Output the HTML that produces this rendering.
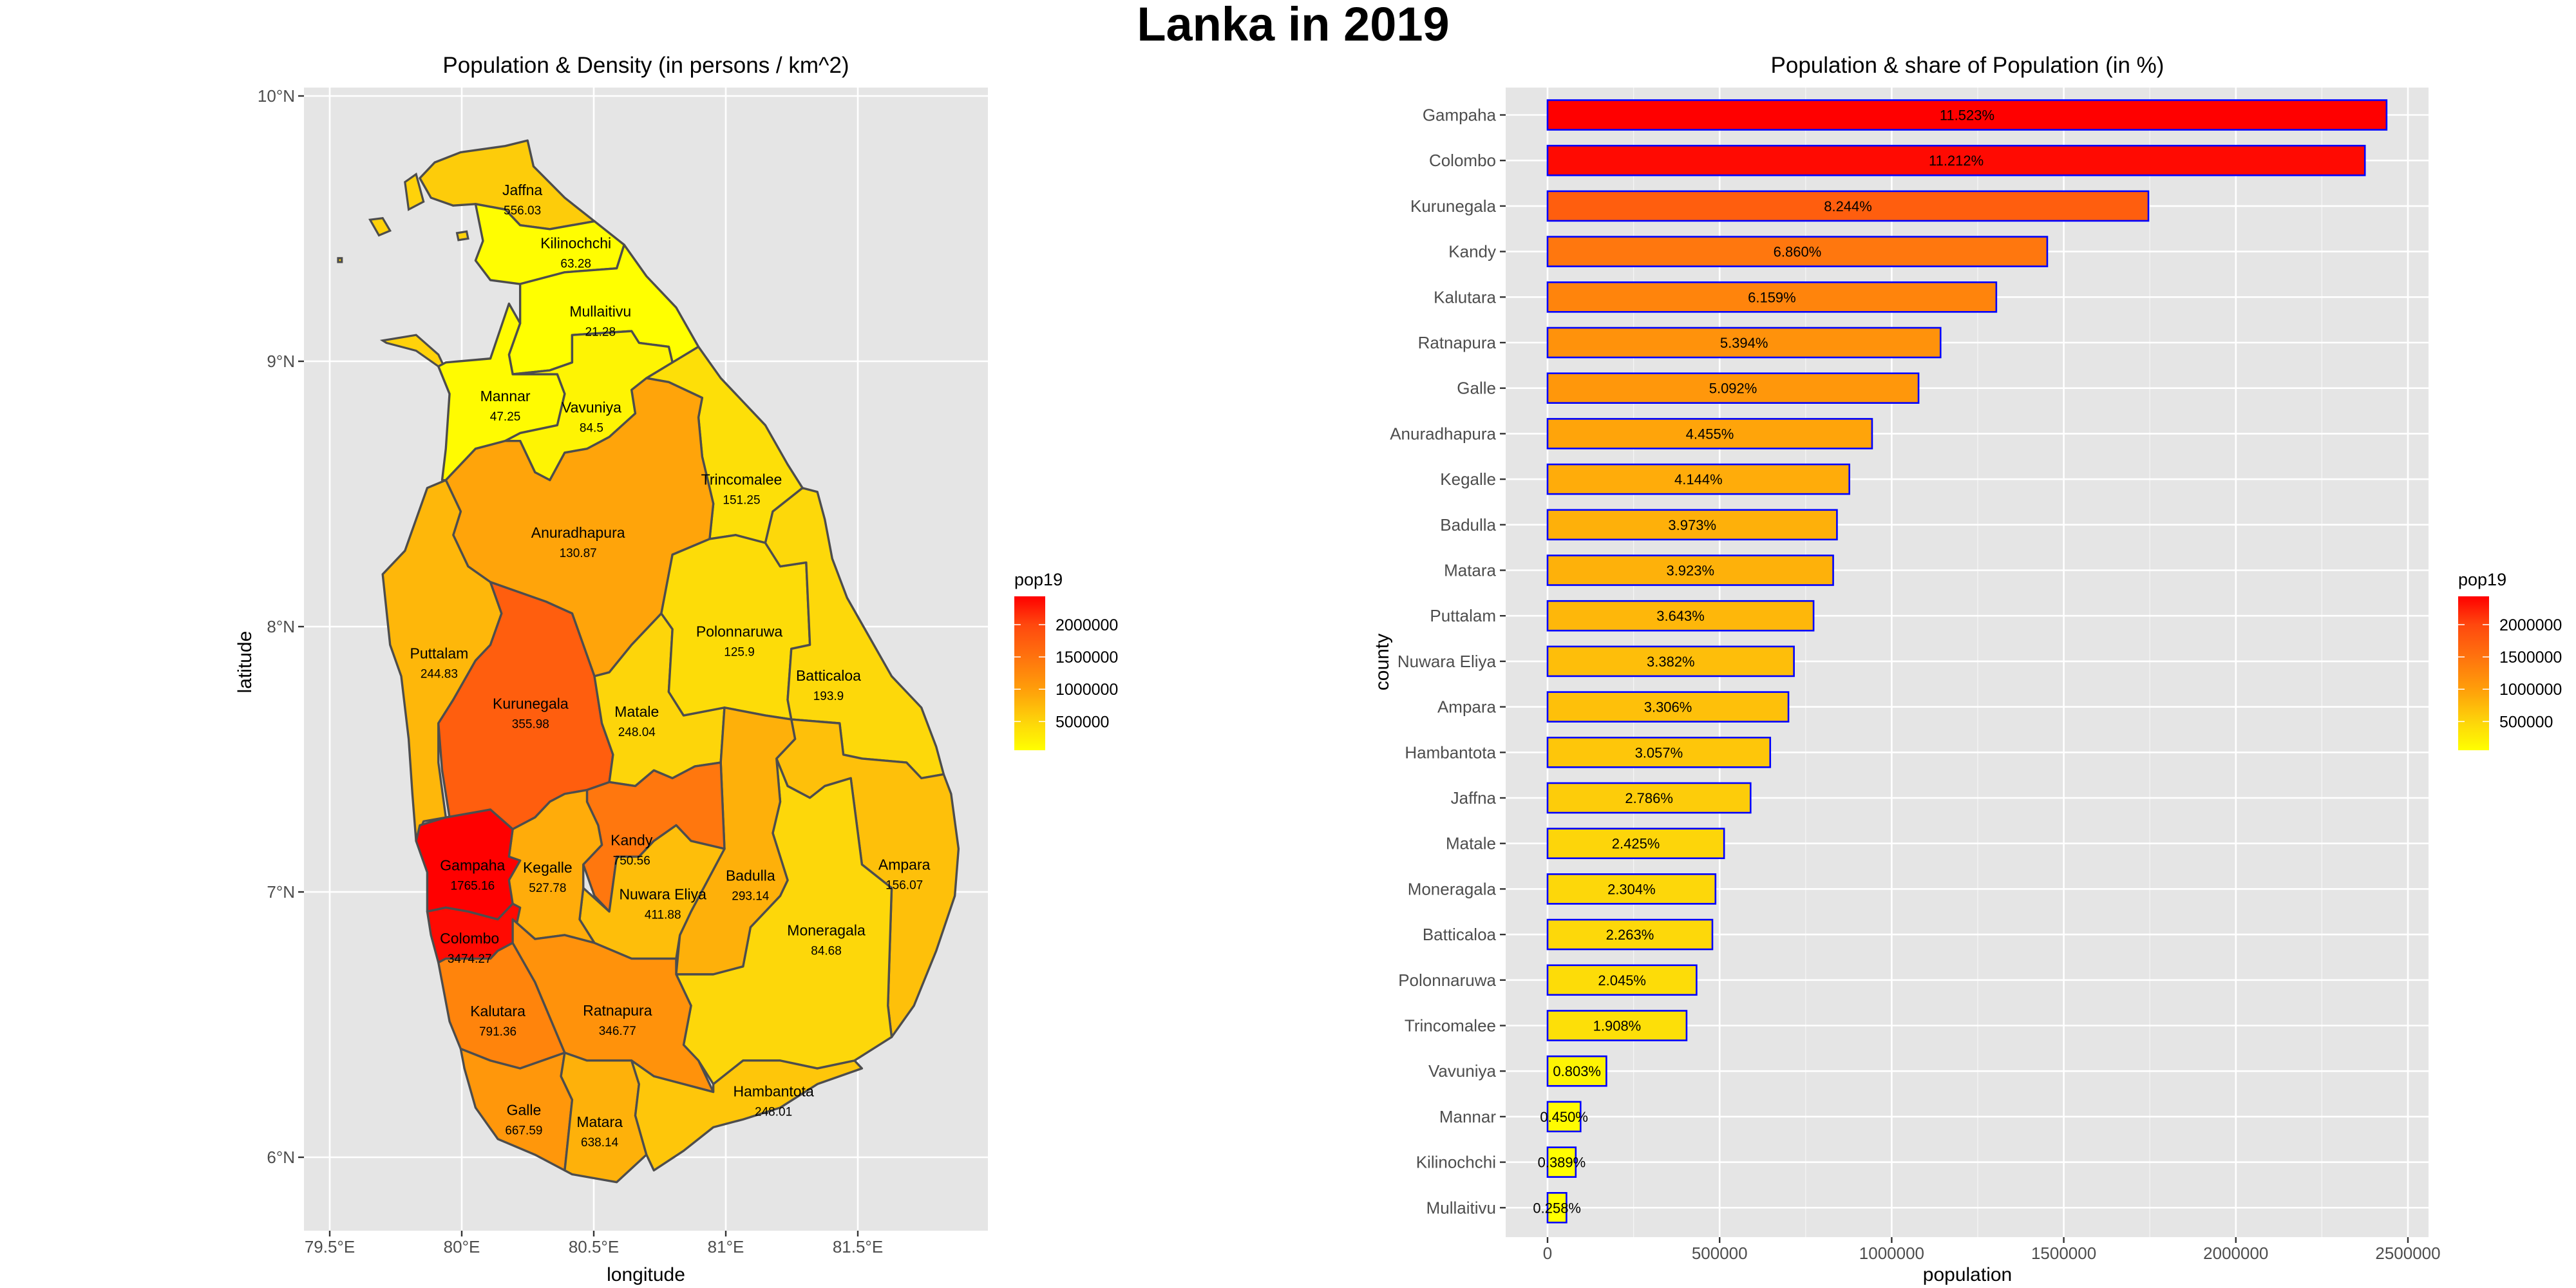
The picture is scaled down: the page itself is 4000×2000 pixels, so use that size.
<!DOCTYPE html>
<html><head><meta charset="utf-8"><style>
html,body{margin:0;padding:0;background:#fff}
svg{display:block;font-family:"Liberation Sans",Arial,sans-serif}
</style></head><body>
<svg id="root" width="4000" height="2000" viewBox="0 0 4000 2000" xmlns="http://www.w3.org/2000/svg">
<text x="2008" y="63" font-size="74" font-weight="bold" text-anchor="middle">Lanka in 2019</text>
<text x="1003" y="113" font-size="35" text-anchor="middle">Population &amp; Density (in persons / km^2)</text>
<text x="3055" y="113" font-size="35" text-anchor="middle">Population &amp; share of Population (in %)</text>
<defs><linearGradient id="lg" x1="0" y1="1" x2="0" y2="0">
<stop offset="0" stop-color="#ffff00"/><stop offset="0.187" stop-color="#fdd40a"/><stop offset="0.397" stop-color="#ff9e0a"/><stop offset="0.606" stop-color="#ff730e"/><stop offset="0.816" stop-color="#ff480e"/><stop offset="1" stop-color="#ff0000"/></linearGradient></defs>
<g id="map"></g>
<g id="bars"></g>
</svg>
<script>
// ---- data ----
const counties=["Gampaha","Colombo","Kurunegala","Kandy","Kalutara","Ratnapura","Galle","Anuradhapura","Kegalle","Badulla","Matara","Puttalam","Nuwara Eliya","Ampara","Hambantota","Jaffna","Matale","Moneragala","Batticaloa","Polonnaruwa","Trincomalee","Vavuniya","Mannar","Kilinochchi","Mullaitivu"];
const pops=[2438000,2375000,1746000,1452000,1304000,1142000,1078000,943000,877000,841000,830000,773000,716000,700000,647000,590000,513000,488000,479000,433000,404000,171000,96000,82000,55000];
const shares=["11.523%","11.212%","8.244%","6.860%","6.159%","5.394%","5.092%","4.455%","4.144%","3.973%","3.923%","3.643%","3.382%","3.306%","3.057%","2.786%","2.425%","2.304%","2.263%","2.045%","1.908%","0.803%","0.450%","0.389%","0.258%"];
const xTicks=[0,500000,1000000,1500000,2000000,2500000];
const legendTicks=[500000,1000000,1500000,2000000];
const legendLimits=[55000,2438000];
const densities={"Jaffna":"556.03","Kilinochchi":"63.28","Mullaitivu":"21.28","Mannar":"47.25","Vavuniya":"84.5","Trincomalee":"151.25","Anuradhapura":"130.87","Polonnaruwa":"125.9","Puttalam":"244.83","Batticaloa":"193.9","Kurunegala":"355.98","Matale":"248.04","Kandy":"750.56","Gampaha":"1765.16","Kegalle":"527.78","Badulla":"293.14","Ampara":"156.07","Nuwara Eliya":"411.88","Moneragala":"84.68","Colombo":"3474.27","Kalutara":"791.36","Ratnapura":"346.77","Hambantota":"248.01","Galle":"667.59","Matara":"638.14"};
const lonTicks=[79.5,80,80.5,81,81.5];
const latTicks=[6,7,8,9,10];

const NS="http://www.w3.org/2000/svg";
function mk(tag,attrs,parent,txt){const e=document.createElementNS(NS,tag);for(const k in attrs)e.setAttribute(k,attrs[k]);if(txt!==undefined)e.textContent=txt;parent.appendChild(e);return e;}
const cstops=[[55000,[255,255,0]],[500000,[253,214,10]],[1000000,[255,158,10]],[1500000,[255,115,14]],[2000000,[255,72,14]],[2438000,[255,0,0]]];
function fillFor(v){if(v<=cstops[0][0])return"rgb(255,255,0)";for(let i=1;i<cstops.length;i++){if(v<=cstops[i][0]){const a=cstops[i-1],b=cstops[i],t=(v-a[0])/(b[0]-a[0]);const c=a[1].map((x,j)=>Math.round(x+(b[1][j]-x)*t));return`rgb(${c})`;}}return"rgb(255,0,0)";}
const popOf={};counties.forEach((c,i)=>popOf[c]=pops[i]);

function legend(parent,x0,name){
  const g=mk('g',{},parent);
  
  
  mk('text',{x:x0,y:909,'font-size':27},g,'pop19');
  const top=926,bot=1165;
  mk('rect',{x:x0,y:top,width:48,height:bot-top,fill:'url(#lg)'},g);
  const ly=v=>bot-(v-legendLimits[0])/(legendLimits[1]-legendLimits[0])*(bot-top);
  legendTicks.forEach(v=>{const y=ly(v);
    mk('line',{x1:x0,x2:x0+10,y1:y,y2:y,stroke:'#fff','stroke-width':1.5},g);
    mk('line',{x1:x0+38,x2:x0+48,y1:y,y2:y,stroke:'#fff','stroke-width':1.5},g);
    const t=mk('text',{x:x0+64,y:y+9,'font-size':25},g,String(v));
    
    
  });
}

// ---- bar chart ----
(function(){
  const g=document.getElementById('bars');
  const L=2338,R=3771,T=136,B=1921;
  const xs=v=>2403+v*(3739-2403)/2500000;
  const ys=i=>178.5+i*70.7;
  mk('rect',{x:L,y:T,width:R-L,height:B-T,fill:'#e5e5e5'},g);
  for(let v=250000;v<2750000;v+=500000){const x=xs(v);mk('line',{x1:x,x2:x,y1:T,y2:B,stroke:'#f5f5f5','stroke-width':1.3},g);}
  xTicks.forEach(v=>{const x=xs(v);mk('line',{x1:x,x2:x,y1:T,y2:B,stroke:'#fff','stroke-width':2.6},g);
    mk('line',{x1:x,x2:x,y1:B,y2:B+9,stroke:'#333','stroke-width':2.4},g);
    const t=mk('text',{x:x,y:B+34,'font-size':26,fill:'#4d4d4d','text-anchor':'middle'},g,String(v));
    
    });
  counties.forEach((c,i)=>{const y=ys(i);
    mk('line',{x1:L,x2:R,y1:y,y2:y,stroke:'#fff','stroke-width':2.6},g);
    mk('line',{x1:L-9,x2:L,y1:y,y2:y,stroke:'#333','stroke-width':2.4},g);
    const t=mk('text',{x:L-15,y:y+9,'font-size':26,fill:'#4d4d4d','text-anchor':'end'},g,c);
    
    
  });
  counties.forEach((c,i)=>{const y=ys(i);const w=xs(pops[i])-xs(0);
    const r=mk('rect',{x:xs(0),y:y-23,width:w,height:46,fill:fillFor(pops[i]),stroke:'#0000ff','stroke-width':2.6},g);
    
    
    const t=mk('text',{x:xs(0)+w/2,y:y+8,'font-size':22,'text-anchor':'middle'},g,shares[i]);
    
    
  });
  const xt=mk('text',{x:3055,y:1989,'font-size':30,'text-anchor':'middle'},g,'population');
  
  
  const yt=mk('text',{x:0,y:0,'font-size':30,'text-anchor':'middle',transform:'translate(2156,1028) rotate(-90)'},g,'county');
  
  
  legend(g,3817,'bar-legend');
})();

// ---- map ----
const shapes={
"Jaffna":"585,125 620,112 650,108 680,104 710,97 718,130 760,170 800,200 740,210 700,205 680,185 640,178 610,180 580,170 565,145",
"Kilinochchi":"640,178 680,185 700,205 740,210 800,200 840,230 830,260 760,265 700,280 660,275 640,250 650,225",
"Mullaitivu":"700,280 760,265 830,260 840,230 870,270 910,310 940,360 905,380 900,360 860,355 850,340 770,345 770,380 740,390 690,395 685,370 700,330",
"Mannar":"600,380 660,375 685,305 700,330 685,370 690,395 750,395 760,420 750,460 700,470 680,480 640,490 600,530 595,530 600,490 605,420 590,385",
"Vavuniya":"690,395 740,390 770,380 770,345 850,340 860,355 900,360 905,380 870,400 850,415 855,445 820,475 790,490 760,495 740,530 720,520 700,480 680,480 700,470 750,460 760,420 750,395",
"Trincomalee":"870,400 905,380 940,360 970,400 1000,430 1030,460 1060,510 1080,540 1040,570 1030,610 990,600 955,605 960,560 945,500 940,450 945,425 900,405",
"Anuradhapura":"600,530 640,490 680,480 700,480 720,520 740,530 760,495 790,490 820,475 855,445 850,415 870,400 900,405 945,425 940,450 945,500 960,560 955,605 905,625 890,700 850,740 820,775 800,780 770,700 735,685 660,660 630,640 610,600 620,570",
"Puttalam":"575,540 600,530 620,570 610,600 630,640 660,660 675,700 660,740 640,760 610,810 590,840 590,890 600,960 570,965 560,990 555,930 550,860 540,780 525,740 515,650 545,620 560,580",
"Kurunegala":"660,660 735,685 770,700 800,780 810,840 825,880 820,915 790,925 760,930 740,940 720,960 690,975 660,950 605,960 595,900 590,840 610,810 640,760 660,740 675,700",
"Matale":"800,780 820,775 850,740 890,700 905,720 900,800 920,830 975,820 970,890 935,895 905,910 880,900 855,920 820,915 825,880 810,840",
"Polonnaruwa":"905,625 955,605 990,600 1030,610 1050,640 1085,635 1090,740 1065,745 1060,810 1065,835 1030,830 975,820 920,830 900,800 905,720 890,700",
"Batticaloa":"1080,540 1100,545 1110,580 1120,630 1140,680 1170,730 1200,780 1240,820 1260,870 1270,905 1240,910 1220,890 1160,885 1135,880 1130,840 1065,835 1060,810 1065,745 1090,740 1085,635 1050,640 1030,610 1040,570",
"Ampara":"1135,880 1160,885 1220,890 1240,910 1270,905 1280,930 1290,1000 1285,1060 1260,1130 1230,1200 1200,1240 1195,1200 1200,1050 1160,1020 1145,910 1110,920 1090,935 1060,920 1045,885 1070,860 1065,835 1130,840",
"Moneragala":"1045,885 1060,920 1090,935 1110,920 1145,910 1160,1020 1200,1050 1195,1200 1200,1240 1150,1270 1100,1280 1050,1270 1000,1270 960,1300 940,1270 920,1250 930,1200 910,1160 960,1160 1000,1150 1010,1100 1050,1060 1060,1040 1040,980 1050,940",
"Badulla":"975,820 1030,830 1065,835 1070,860 1045,885 1050,940 1040,980 1060,1040 1050,1060 1010,1100 1000,1150 960,1160 910,1160 915,1110 930,1080 975,1000 970,890",
"Kandy":"820,915 855,920 880,900 905,910 935,895 970,890 975,1000 930,990 910,970 880,990 860,1010 830,1010 820,1080 800,1060 785,1020 810,995 805,970 790,940 790,925",
"Nuwara Eliya":"830,1010 860,1010 880,990 910,970 930,990 975,1000 930,1080 915,1110 910,1140 850,1140 800,1120 780,1090 785,1050 820,1080",
"Kegalle":"690,975 720,960 740,940 760,930 790,925 790,940 805,970 810,995 785,1020 785,1050 780,1090 800,1120 760,1110 720,1115 690,1090 685,1040 685,1010",
"Gampaha":"565,970 600,960 660,950 690,975 685,1010 700,1015 685,1040 690,1070 670,1090 630,1080 600,1075 575,1080 575,1030 560,990",
"Colombo":"575,1080 600,1075 630,1080 670,1090 690,1070 700,1075 690,1120 670,1130 660,1140 600,1140 590,1145 580,1110",
"Kalutara":"590,1145 600,1140 660,1140 670,1130 690,1120 720,1170 760,1260 730,1270 700,1280 660,1270 620,1255 605,1220",
"Ratnapura":"690,1120 690,1090 720,1115 760,1110 800,1120 850,1140 910,1140 910,1160 930,1200 920,1250 940,1270 960,1310 920,1300 880,1290 850,1270 790,1270 760,1260 720,1170",
"Galle":"620,1255 660,1270 700,1280 730,1270 760,1260 755,1290 770,1320 760,1410 720,1390 670,1370 640,1330 625,1280",
"Matara":"760,1260 790,1270 850,1270 860,1300 855,1340 870,1390 830,1425 770,1415 760,1410 770,1320 755,1290",
"Hambantota":"850,1270 880,1290 920,1300 960,1310 960,1300 1000,1270 1050,1270 1100,1280 1150,1270 1160,1280 1100,1300 1050,1330 1000,1345 960,1355 920,1385 880,1410 870,1390 855,1340 860,1300"
};
const labelPos={"Jaffna":[703,160],"Kilinochchi":[775,228],"Mullaitivu":[808,315],"Mannar":[680,423],"Vavuniya":[796,437],"Trincomalee":[998,529],"Anuradhapura":[778,597],"Polonnaruwa":[995,723],"Puttalam":[591,751],"Batticaloa":[1115,779],"Kurunegala":[714,815],"Matale":[857,825],"Kandy":[850,989],"Gampaha":[636,1021],"Kegalle":[737,1024],"Badulla":[1010,1034],"Ampara":[1217,1020],"Nuwara Eliya":[892,1058],"Moneragala":[1112,1104],"Colombo":[632,1114],"Kalutara":[670,1207],"Ratnapura":[831,1206],"Hambantota":[1041,1309],"Galle":[705,1333],"Matara":[807,1348]};
(function(){
  const g=document.getElementById('map');
  const L=472,R=1534,T=136,B=1911;
  const lonX=lo=>717+(lo-80)*410;
  const latY=la=>1797-(la-6)*412;
  mk('rect',{x:L,y:T,width:R-L,height:B-T,fill:'#e5e5e5'},g);
  lonTicks.forEach(v=>{const x=lonX(v);mk('line',{x1:x,x2:x,y1:T,y2:B,stroke:'#fff','stroke-width':2.6},g);
    mk('line',{x1:x,x2:x,y1:B,y2:B+9,stroke:'#333','stroke-width':2.4},g);
    const t=mk('text',{x:x,y:B+34,'font-size':26,fill:'#4d4d4d','text-anchor':'middle'},g,v+'°E');
    
    });
  latTicks.forEach(v=>{const y=latY(v);mk('line',{x1:L,x2:R,y1:y,y2:y,stroke:'#fff','stroke-width':2.6},g);
    mk('line',{x1:L-9,x2:L,y1:y,y2:y,stroke:'#333','stroke-width':2.4},g);
    const t=mk('text',{x:L-14,y:y+9,'font-size':26,fill:'#4d4d4d','text-anchor':'end'},g,v+'°N');
    
    });
  const sx=1.1538,sy=1.218;
  const mg=mk('g',{transform:`translate(0,100) scale(${sx},${sy})`},g);
  ["515,352 560,345 590,370 600,390 590,385 560,365 520,355","498,198 515,196 525,212 510,218","545,150 560,140 570,175 550,185","615,215 628,213 630,222 617,224","455,247 460,247 460,252 455,252"].forEach(p=>{
    const e=mk('polygon',{points:p,fill:'#ffd20a',stroke:'#4d4d4d','stroke-width':3.2,'vector-effect':'non-scaling-stroke'},mg);
    
    
  });
  for(const c in shapes){
    const e=mk('polygon',{points:shapes[c],fill:fillFor(popOf[c]),stroke:'#4d4d4d','stroke-width':3.4,'stroke-linejoin':'round','vector-effect':'non-scaling-stroke'},mg);
    
    
  }
  for(const c in labelPos){const [zx,zy]=labelPos[c];const X=zx*sx,Y=100+zy*sy;
    const t=mk('text',{x:X,y:Y+8,'font-size':23,'text-anchor':'middle'},g,c);
    
    
    const d=mk('text',{x:X,y:Y+38,'font-size':19,'text-anchor':'middle'},g,densities[c]);
    
    
  }
  const xt=mk('text',{x:1003,y:1989,'font-size':30,'text-anchor':'middle'},g,'longitude');
  
  
  const yt=mk('text',{x:0,y:0,'font-size':30,'text-anchor':'middle',transform:'translate(390,1028) rotate(-90)'},g,'latitude');
  
  
  legend(g,1575,'map-legend');
})();
</script>
</body></html>
